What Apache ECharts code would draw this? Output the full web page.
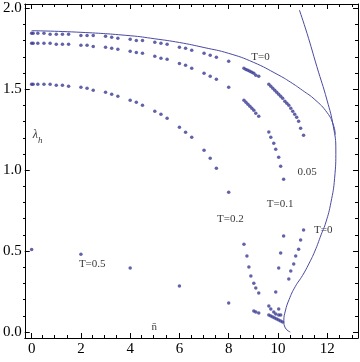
<!DOCTYPE html>
<html>
<head>
<meta charset="utf-8">
<script src="https://cdn.jsdelivr.net/npm/echarts@6/dist/echarts.min.js"></script>
<style>
html, body { margin: 0; padding: 0; background: #fff; }
#chart { width: 360px; height: 362px; }
</style>
</head>
<body>
<div id="chart"></div>
<script>
// numerical points, one array per temperature
var t005Points = [
    [0,1.846],[0.06,1.846],[0.25,1.846],[0.5,1.846],[0.75,1.840],[1,1.840],[1.25,1.840],[1.5,1.840],
    [2,1.833],[2.25,1.833],[2.5,1.833],[3,1.827],[3.25,1.821],[3.5,1.815],
    [4,1.809],[4.25,1.802],[4.5,1.802],[5,1.790],[5.25,1.784],[5.5,1.778],
    [6,1.759],[6.25,1.753],[6.5,1.741],[7,1.722],[7.25,1.710],[7.5,1.698],[8,1.673],
    [8.62,1.630],[8.70,1.623],[8.78,1.617],[8.86,1.611],[8.94,1.605],[9.02,1.599],[9.10,1.586],[9.22,1.580],
    [9.63,1.531],[9.71,1.519],[9.79,1.506],[9.87,1.494],[9.95,1.481],[10.03,1.469],[10.11,1.457],[10.19,1.444],
    [10.28,1.426],[10.36,1.414],[10.44,1.401],[10.52,1.383],[10.60,1.364],[10.68,1.346],[10.76,1.327],
    [10.84,1.302],[10.92,1.259],[11.04,1.216],
    [11.04,0.630],[10.92,0.568],[10.84,0.512],[10.72,0.469],[10.64,0.420],[10.52,0.377],[10.44,0.327],
    [9.63,0.105],[9.71,0.099],[9.79,0.093],[9.87,0.086],[9.95,0.080],[10.03,0.074],[10.11,0.068],[10.19,0.062],
    [10.03,0.105],[10.11,0.105]
];
var t01Points = [
    [0,1.784],[0.06,1.784],[0.25,1.784],[0.5,1.784],[0.75,1.784],[1,1.778],[1.25,1.778],[1.5,1.778],
    [2,1.772],[2.25,1.772],[2.5,1.765],[3,1.759],[3.25,1.753],[3.5,1.747],
    [4,1.735],[4.25,1.728],[4.5,1.722],[5,1.704],[5.25,1.691],[5.5,1.685],
    [6,1.660],[6.25,1.648],[6.5,1.630],[7,1.599],[7.25,1.580],[7.5,1.562],[8,1.512],
    [8.62,1.432],[8.70,1.420],[8.78,1.407],[8.86,1.395],[8.94,1.383],[9.02,1.370],[9.10,1.352],[9.22,1.333],
    [9.63,1.236],[9.71,1.204],[9.83,1.167],[9.91,1.130],[10.03,1.080],[10.11,1.025],[10.23,0.944],
    [10.23,0.593],[10.11,0.488],[10.03,0.395],[9.91,0.247],[10.03,0.142],
    [9.63,0.160],[9.71,0.142],[9.83,0.123],[9.91,0.111]
];
var t02Points = [
    [0,1.531],[0.06,1.531],[0.25,1.531],[0.5,1.531],[0.75,1.531],[1,1.525],[1.25,1.525],[1.5,1.519],
    [2,1.512],[2.25,1.506],[2.5,1.494],[3,1.481],[3.25,1.469],[3.5,1.457],
    [4,1.432],[4.25,1.420],[4.5,1.401],[5,1.364],[5.25,1.346],[5.5,1.321],
    [6,1.265],[6.25,1.235],[6.5,1.204],[7,1.123],[7.25,1.074],[7.5,1.012],[8,0.864],
    [8.62,0.543],[8.74,0.469],[8.82,0.401],[8.90,0.346],[9.02,0.302],[9.10,0.272],[9.22,0.241],
    [9.02,0.130],[9.10,0.123],[9.22,0.117]
];
var t05Points = [[0,0.510],[2,0.481],[4,0.395],[6,0.284],[8,0.179]];

// T=0 analytic curves
var t0Upper = [
    [0,1.862],[2,1.852],[4,1.831],[5,1.812],[6,1.789],[7,1.758],[8,1.722],[9,1.667],
    [10,1.590],[10.5,1.545],[11,1.493],[11.5,1.436],[12,1.355],[12.25,1.280],[12.33,1.22]
];
var t0Lower = [
    [10.87,1.99],[11.18,1.846],[11.58,1.64],[11.99,1.434],[12.25,1.269],[12.35,1.125],[12.3,0.95],
    [12.15,0.80],[11.95,0.68],[11.75,0.60],[11.5,0.50],[11.25,0.42],[11.0,0.35],[10.7,0.28],
    [10.45,0.20],[10.3,0.13],[10.24,0.07],[10.3,0.025],[10.5,0.0]
];

// text inside the frame
var noteTexts = ['T=0', '0.05', 'T=0.1', 'T=0.2', 'T=0', 'T=0.5', 'n\u0304'];
var noteX = [9.29, 11.18, 10.09, 8.07, 11.84, 2.46, 4.98];
var noteY = [1.70, 0.99, 0.79, 0.70, 0.63, 0.42, 0.028];

var xMajorTicks = [0, 2, 4, 6, 8, 10, 12];
var xMinorTicks = [0.5, 1, 1.5, 2.5, 3, 3.5, 4.5, 5, 5.5, 6.5, 7, 7.5, 8.5, 9, 9.5, 10.5, 11, 11.5, 12.5, 13];
var yMajorTicks = [0, 0.5, 1, 1.5, 2];
var yMinorTicks = [0.1, 0.2, 0.3, 0.4, 0.6, 0.7, 0.8, 0.9, 1.1, 1.2, 1.3, 1.4, 1.6, 1.7, 1.8, 1.9];

var xMin = -0.28, xMax = 13.25, yMin = -0.037, yMax = 2.027;
var serif = 'Liberation Serif';
var pointColor = '#3b3b94';
var lineColor = '#4a4aa2';

function frameAxis(grid, pos, min, max, ticks, len, labelled, fmt) {
    return {
        type: 'value',
        gridIndex: grid,
        position: pos,
        min: min,
        max: max,
        axisLine: { show: grid === 0, onZero: false, lineStyle: { color: '#000', width: 1 } },
        axisTick: { show: true, inside: true, length: len, customValues: ticks, lineStyle: { color: '#000', width: 1 } },
        axisLabel: {
            show: labelled, customValues: ticks, margin: pos === 'bottom' ? 4 : 3,
            color: '#000', fontFamily: serif, fontSize: 15, formatter: fmt
        },
        splitLine: { show: false }
    };
}

var notes = [];
for (var i = 0; i < noteTexts.length; i++) {
    notes.push({ name: noteTexts[i], value: [noteX[i], noteY[i]] });
}

var chart = echarts.init(document.getElementById('chart'));
var option = {
    animation: false,
    backgroundColor: '#fff',
    grid: [
        { left: 23, right: 2, top: 4, bottom: 24 },
        { left: 23, right: 2, top: 4, bottom: 24 }
    ],
    xAxis: [
        frameAxis(0, 'bottom', xMin, xMax, xMajorTicks, 5, true, function (v) { return String(v); }),
        frameAxis(0, 'top', xMin, xMax, xMajorTicks, 5, false),
        frameAxis(1, 'bottom', xMin, xMax, xMinorTicks, 3, false),
        frameAxis(1, 'top', xMin, xMax, xMinorTicks, 3, false)
    ],
    yAxis: [
        frameAxis(0, 'left', yMin, yMax, yMajorTicks, 5, true, function (v) { return v.toFixed(1); }),
        frameAxis(0, 'right', yMin, yMax, yMajorTicks, 5, false),
        frameAxis(1, 'left', yMin, yMax, yMinorTicks, 3, false),
        frameAxis(1, 'right', yMin, yMax, yMinorTicks, 3, false)
    ],
    series: [
        { type: 'line', data: t0Upper, smooth: true, symbol: 'none', lineStyle: { color: lineColor, width: 1 } },
        { type: 'line', data: t0Lower, smooth: true, symbol: 'none', lineStyle: { color: lineColor, width: 1 } },
        { type: 'scatter', data: t005Points, symbolSize: 3.5, itemStyle: { color: pointColor } },
        { type: 'scatter', data: t01Points, symbolSize: 3.5, itemStyle: { color: pointColor } },
        { type: 'scatter', data: t02Points, symbolSize: 3.5, itemStyle: { color: pointColor } },
        { type: 'scatter', data: t05Points, symbolSize: 3.5, itemStyle: { color: pointColor } },
        {
            type: 'scatter', data: notes, symbolSize: 0, silent: true,
            label: { show: true, position: 'inside', formatter: '{b}', color: '#000', fontFamily: serif, fontSize: 11 }
        },
        {
            type: 'scatter', data: [[0.24, 1.207]], symbolSize: 0, silent: true,
            label: {
                show: true, position: 'inside', formatter: '{l|\u03bb}{s|h}',
                rich: {
                    l: { fontFamily: serif, fontStyle: 'italic', fontSize: 12, color: '#000', verticalAlign: 'top', lineHeight: 12 },
                    s: { fontFamily: serif, fontStyle: 'italic', fontSize: 9, color: '#000', verticalAlign: 'bottom', lineHeight: 16 }
                }
            }
        }
    ]
};
chart.setOption(option);
</script>
</body>
</html>
